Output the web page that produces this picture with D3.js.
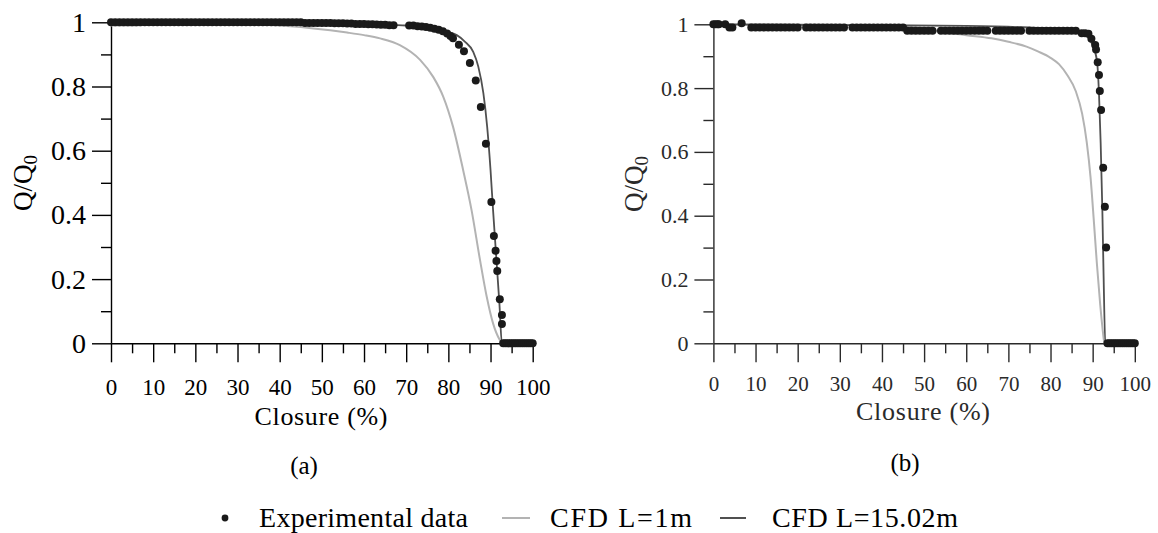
<!DOCTYPE html>
<html><head><meta charset="utf-8">
<script src="https://cdn.jsdelivr.net/npm/d3@7"></script>
<style>html,body{margin:0;padding:0;background:#fff;} svg{display:block;} svg text{font-family:"Liberation Serif","DejaVu Serif",serif;}</style>
</head><body><svg id="chart" width="1158" height="533"></svg>
<script>
// ---------- data ----------
const xMajorTicks = [0,10,20,30,40,50,60,70,80,90,100];
const xMinorTicks = [5,15,25,35,45,55,65,75,85,95];
const yMajorTicks = [0,0.2,0.4,0.6,0.8,1];
const yMinorTicks = [0.1,0.3,0.5,0.7,0.9];
const yTickLabels = ["0","0.2","0.4","0.6","0.8","1"];
const xTickLabels = ["0","10","20","30","40","50","60","70","80","90","100"];
const panelLabels = ["(a)","(b)"];
const legendLabels = ["Experimental data","CFD L=1m","CFD L=15.02m"];

// panel (a)
const expA = [
[0,1],[1,1],[2,1],[3,1],[4,1],[5,1],[6,1],[7,1],[8,1],[9,1],
[10,1],[11,1],[12,1],[13,1],[14,1],[15,1],[16,1],[17,1],[18,1],[19,1],
[20,1],[21,1],[22,1],[23,1],[24,1],[25,1],[26,1],[27,1],[28,1],[29,1],
[30,1],[31,1],[32,1],[33,1],[34,1],[35,1],[36,1],[37,1],[38,1],[39,1],
[40,1],[41,1],[42,1],[43,1],[44,1],[45,1],[46,0.998],[47,0.998],[48,0.998],[49,0.998],
[50,0.998],[51,0.998],[52,0.998],[53,0.997],[54,0.997],[55,0.997],[56,0.996],[57,0.996],[58,0.995],[59,0.995],
[60,0.995],[61,0.994],[62,0.994],[63,0.993],[64,0.992],[65,0.992],[66,0.991],[67,0.991],
[70.7,0.99],[71.7,0.99],[72.7,0.988],[73.7,0.987],[74.7,0.985],[75.7,0.983],[76.7,0.98],[77.7,0.977],[78.7,0.972],[79.7,0.965],
[80.5,0.957],[81.1,0.95],[82.5,0.93],[83.7,0.91],[85.1,0.873],[86.5,0.819],[87.7,0.736],[88.9,0.622],[90.2,0.44],[90.8,0.334],
[91.2,0.288],[91.4,0.256],[91.6,0.225],[92.2,0.137],[92.7,0.088],[92.7,0.06],
[93,0],[93.5,0],[94,0],[94.5,0],[95,0],[95.5,0],[96,0],[96.5,0],[97,0],[97.5,0],[98,0],[98.5,0],[99,0],[99.5,0],[100,0]
];
const cfd1A = [
[0,0.99],[5,0.99],[10,0.993],[20,0.994],[30,0.994],[35,0.993],[40,0.99],[45,0.985],[48,0.981],[52,0.975],
[56,0.968],[60,0.96],[63.8,0.95],[68.5,0.929],[73.3,0.883],[76.4,0.83],[78.8,0.768],[81.1,0.675],[83.5,0.54],
[85.5,0.415],[87.5,0.26],[89.1,0.145],[90.6,0.062],[92.2,0.01],[92.7,0],[100,0]
];
const cfd15A = [
[0,1],[20,1],[40,0.998],[55,0.996],[65,0.993],[70,0.99],[75,0.985],[80,0.97],[82,0.96],[83.9,0.94],
[85.9,0.908],[87.1,0.862],[88.3,0.779],[89.2,0.675],[90.0,0.54],[90.6,0.415],[91.4,0.26],[92.1,0.125],[92.7,0],[100,0]
];

// panel (b)
const expB = [
[0,1],[0.5,1],[1,1],[1.3,1],[2.8,1],[3.8,0.99],[4.5,0.99],[6.7,1.003],
[9,0.99],[10,0.99],[11,0.99],[12,0.99],[13,0.99],[14,0.99],[15,0.99],[16,0.99],[17,0.99],[18,0.99],[19,0.99],[20,0.99],
[22,0.99],[23,0.99],[24,0.99],[25,0.99],[26,0.99],[27,0.99],[28,0.99],[29,0.99],[30,0.99],[31,0.99],
[33,0.99],[34,0.99],[35,0.99],[36,0.99],[37,0.99],[38,0.99],[39,0.99],[40,0.99],[41,0.99],[42,0.99],[43,0.99],[44,0.99],[45,0.99],
[46,0.98],[47,0.98],[48,0.98],[49,0.98],[50,0.98],[51,0.98],[52,0.98],
[54,0.98],[55,0.98],[56,0.98],[57,0.98],[58,0.98],[59,0.98],[60,0.98],[61,0.98],[62,0.98],[63,0.98],[64,0.98],[65,0.98],
[67,0.98],[68,0.98],[69,0.98],[70,0.98],[71,0.98],[72,0.98],[73,0.98],
[75,0.98],[76,0.98],[77,0.98],[78,0.98],[79,0.98],[80,0.98],[81,0.98],[82,0.98],[83,0.98],[84,0.98],[85,0.98],[86,0.98],
[87.4,0.972],[88.2,0.972],[89,0.97],[89.7,0.955],[90.6,0.935],[90.8,0.921],[91.2,0.881],[91.5,0.841],[91.7,0.791],[92.0,0.731],
[92.5,0.55],[92.9,0.428],[93.2,0.30],
[93.5,0],[94,0],[94.5,0],[95,0],[95.5,0],[96,0],[96.5,0],[97,0],[97.5,0],[98,0],[98.5,0],[99,0],[99.5,0],[100,0]
];
const cfd1B = [
[0,1],[20,0.999],[40,0.997],[48,0.99],[53.8,0.977],[60,0.966],[66,0.956],[70,0.945],[74.3,0.93],[77,0.915],
[80,0.895],[82,0.875],[84,0.84],[86,0.79],[87.5,0.72],[88.6,0.63],[89.5,0.52],[90.3,0.38],[91,0.25],[91.8,0.12],
[92.4,0.04],[92.8,0],[100,0]
];
const cfd15B = [
[0,1],[20,0.998],[40,0.997],[60,0.995],[75,0.99],[82,0.985],[86,0.978],[88,0.97],[89.8,0.94],[91,0.888],
[91.5,0.784],[91.9,0.627],[92.3,0.418],[92.6,0.209],[93,0],[100,0]
];

// ---------- drawing ----------
const FONT = '"Liberation Serif","DejaVu Serif",serif';
const svg = d3.select("#chart");
svg.append("rect").attr("width",1158).attr("height",533).attr("fill","#fff");

const panels = [
  {exp:expA, c1:cfd1A, c15:cfd15A, left:111, right:532.7, top:22.3, bottom:343.3,
   ink:"#000", yFont:28, xFont:23, titleFont:26, r:4,
   xLabelY:395, xTitleY:425, xTitleX:321, xTitleLen:133, yTitleX:32, yTitleY:183,
   tagX:304, tagY:474},
  {exp:expB, c1:cfd1B, c15:cfd15B, left:713.4, right:1134.8, top:24.3, bottom:343.3,
   ink:"#2a2a2a", yFont:22, xFont:21, titleFont:26, r:4,
   xLabelY:391, xTitleY:420, xTitleX:923, xTitleLen:134, yTitleX:643, yTitleY:184,
   tagX:905, tagY:471}
];

function setFont(sel, size, ink){
  sel.style("font-family",FONT).style("font-size",size+"px").attr("fill",ink);
}

panels.forEach((p,i)=>{
  const g = svg.append("g");
  const x = d3.scaleLinear().domain([0,100]).range([p.left,p.right]);
  const y = d3.scaleLinear().domain([0,1]).range([p.bottom,p.top]);

  g.append("g").attr("transform",`translate(${p.left},0)`)
    .call(d3.axisLeft(y).tickValues(yMinorTicks).tickSize(10).tickFormat("").tickSizeOuter(0))
    .call(s=>s.select(".domain").remove());
  const ya = g.append("g").attr("transform",`translate(${p.left},0)`)
    .call(d3.axisLeft(y).tickValues(yMajorTicks).tickSize(19).tickSizeOuter(0).tickPadding(6)
      .tickFormat((d,k)=>yTickLabels[k]));
  ya.attr("font-family",null);
  setFont(ya.selectAll("text"), p.yFont, p.ink);

  g.append("g").attr("transform",`translate(0,${p.bottom})`)
    .call(d3.axisBottom(x).tickValues(xMinorTicks).tickSize(10).tickFormat("").tickSizeOuter(0))
    .call(s=>s.select(".domain").remove());
  const xa = g.append("g").attr("transform",`translate(0,${p.bottom})`)
    .call(d3.axisBottom(x).tickValues(xMajorTicks).tickSize(19).tickSizeOuter(0)
      .tickFormat((d,k)=>xTickLabels[k]));
  xa.attr("font-family",null);
  setFont(xa.selectAll("text"), p.xFont, p.ink);
  xa.selectAll("text").attr("dy",null).attr("y",p.xLabelY - p.bottom);

  g.selectAll(".domain, .tick line").attr("stroke",p.ink).attr("stroke-width",1.4);

  const line = d3.line().x(d=>x(d[0])).y(d=>y(d[1])).curve(d3.curveMonotoneX);
  g.append("path").datum(p.c1).attr("d",line).attr("fill","none")
    .attr("stroke","#b3b3b3").attr("stroke-width",2);
  g.append("path").datum(p.c15).attr("d",line).attr("fill","none")
    .attr("stroke","#505050").attr("stroke-width",1.8);

  g.append("g").selectAll("circle").data(p.exp).join("circle")
    .attr("cx",d=>x(d[0])).attr("cy",d=>y(d[1])).attr("r",p.r).attr("fill","#1a1a1a");

  const xt = g.append("text").attr("x",p.xTitleX).attr("y",p.xTitleY).attr("text-anchor","middle")
    .attr("textLength",p.xTitleLen).attr("lengthAdjust","spacing").text("Closure (%)");
  setFont(xt, p.titleFont, p.ink);
  const yt = g.append("text").attr("transform",`translate(${p.yTitleX},${p.yTitleY}) rotate(-90)`)
    .attr("text-anchor","middle");
  setFont(yt, 27, p.ink);
  yt.append("tspan").text("Q/Q");
  yt.append("tspan").style("font-size","19px").attr("dy",5).text("0");

  const tg = svg.append("text").attr("x",p.tagX).attr("y",p.tagY).attr("text-anchor","middle").text(panelLabels[i]);
  setFont(tg, 25, "#000");
});

// legend
const lg = svg.append("g");
const LY = 518, LB = 527;
lg.append("circle").attr("cx",225).attr("cy",LY).attr("r",3.4).attr("fill","#1a1a1a");
setFont(lg.append("text").attr("x",259).attr("y",LB).attr("textLength",209).attr("lengthAdjust","spacing").text(legendLabels[0]), 28, "#000");
lg.append("line").attr("x1",502).attr("x2",530).attr("y1",LY).attr("y2",LY).attr("stroke","#b3b3b3").attr("stroke-width",2);
setFont(lg.append("text").attr("x",550).attr("y",LB).attr("textLength",142).attr("lengthAdjust","spacing").text(legendLabels[1]), 28, "#000");
lg.append("line").attr("x1",720).attr("x2",746).attr("y1",LY).attr("y2",LY).attr("stroke","#505050").attr("stroke-width",2);
setFont(lg.append("text").attr("x",772).attr("y",LB).attr("textLength",186).attr("lengthAdjust","spacing").text(legendLabels[2]), 28, "#000");
</script></body></html>
